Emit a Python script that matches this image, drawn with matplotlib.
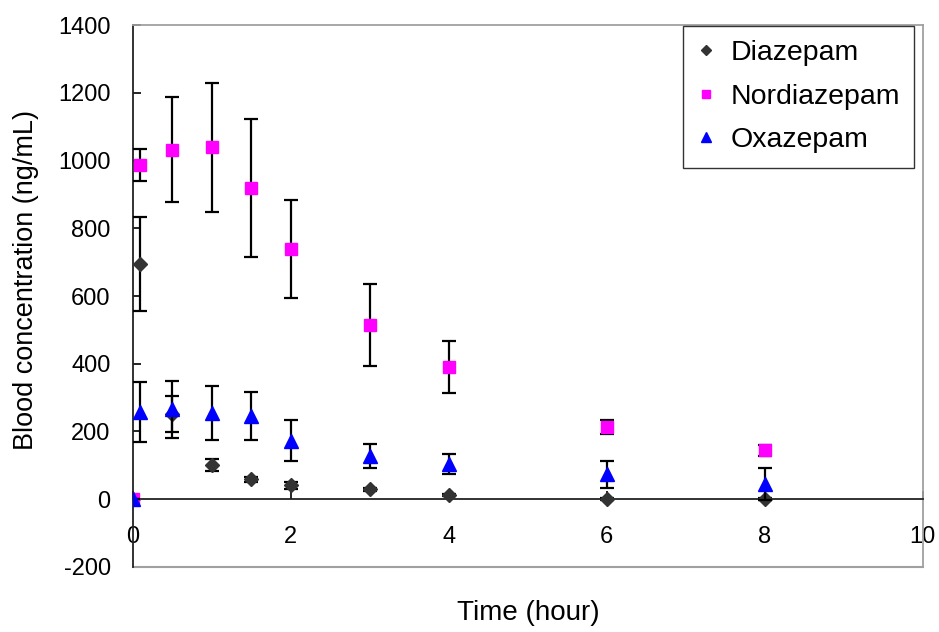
import numpy as np
import matplotlib.pyplot as plt
from matplotlib.lines import Line2D

plt.rcParams['font.family'] = ['Liberation Sans', 'DejaVu Sans']
plt.rcParams['axes.unicode_minus'] = False

# time points (hour)
time = [0, 0.083, 0.5, 1, 1.5, 2, 3, 4, 6, 8]

diazepam = [0, 695, 252, 100, 59, 41, 29, 12, 0, 0]
diazepam_err = [3, 140, 54, 18, 8, 10, 5, 4, 3, 3]

nordiazepam = [0, 987, 1033, 1039, 920, 739, 515, 391, 213, 144]
nordiazepam_err = [0, 47, 155, 190, 204, 144, 121, 77, 21, 15]

oxazepam = [0, 257, 265, 255, 246, 173, 128, 105, 73, 46]
oxazepam_err = [0, 88, 85, 80, 70, 61, 35, 30, 39, 47]

fig = plt.figure(figsize=(9.39, 6.32), dpi=100)
ax = fig.add_axes([0.1416, 0.103, 0.8411, 0.857])

eb = dict(ecolor='black', elinewidth=1.6, capsize=4.8, capthick=1.6, linestyle='none')
ax.errorbar(time, diazepam, yerr=diazepam_err, marker='D', color='#333333',
            markersize=7.5, zorder=3, **eb)
ax.errorbar(time, nordiazepam, yerr=nordiazepam_err, marker='s', color='#FF00FF',
            markersize=8.5, zorder=4, **eb)
ax.errorbar(time, oxazepam, yerr=oxazepam_err, marker='^', color='#0000FF',
            markersize=10, zorder=5, **eb)

ax.set_xlim(0, 10)
ax.set_ylim(-200, 1400)
ax.set_xticks(np.arange(0, 11, 2))
ax.set_yticks(np.arange(-200, 1401, 200))

# x axis crosses at zero, gray frame around plot area
ax.spines['bottom'].set_position(('data', 0))
ax.spines['bottom'].set_color('#222222')
ax.spines['left'].set_color('#222222')
ax.spines['top'].set_color('#a0a0a0')
ax.spines['right'].set_color('#a0a0a0')
for s in ax.spines.values():
    s.set_linewidth(1.3)
ax.add_line(Line2D([0, 1], [0, 0], transform=ax.transAxes, color='#a0a0a0',
                   linewidth=1.5, clip_on=False))

ax.tick_params(axis='x', direction='in', length=6, width=1.2, pad=19, labelsize=17)
ax.tick_params(axis='y', direction='in', length=6, width=1.2, pad=16, labelsize=17)

ax.set_xlabel('Time (hour)', fontsize=20)
ax.xaxis.set_label_coords(0.5, -0.085)
ax.xaxis.label.set_va('center')
ax.set_ylabel('Blood concentration (ng/mL)', fontsize=19.5)
ax.yaxis.set_label_coords(-0.135, 0.53)
ax.yaxis.label.set_va('center')

handles = [
    Line2D([], [], marker='D', color='#333333', linestyle='none', markersize=5.5),
    Line2D([], [], marker='s', color='#FF00FF', linestyle='none', markersize=6),
    Line2D([], [], marker='^', color='#0000FF', linestyle='none', markersize=7),
]
leg = ax.legend(handles, ['Diazepam', 'Nordiazepam', 'Oxazepam'],
                loc='upper right', bbox_to_anchor=(0.989, 0.999), fontsize=20.5,
                frameon=True, fancybox=False, edgecolor='black',
                borderpad=0.5, labelspacing=0.62, handlelength=0.6, handletextpad=0.55,
                borderaxespad=0)
leg.get_frame().set_linewidth(1.0)

fig.savefig('out.png', dpi=100)
